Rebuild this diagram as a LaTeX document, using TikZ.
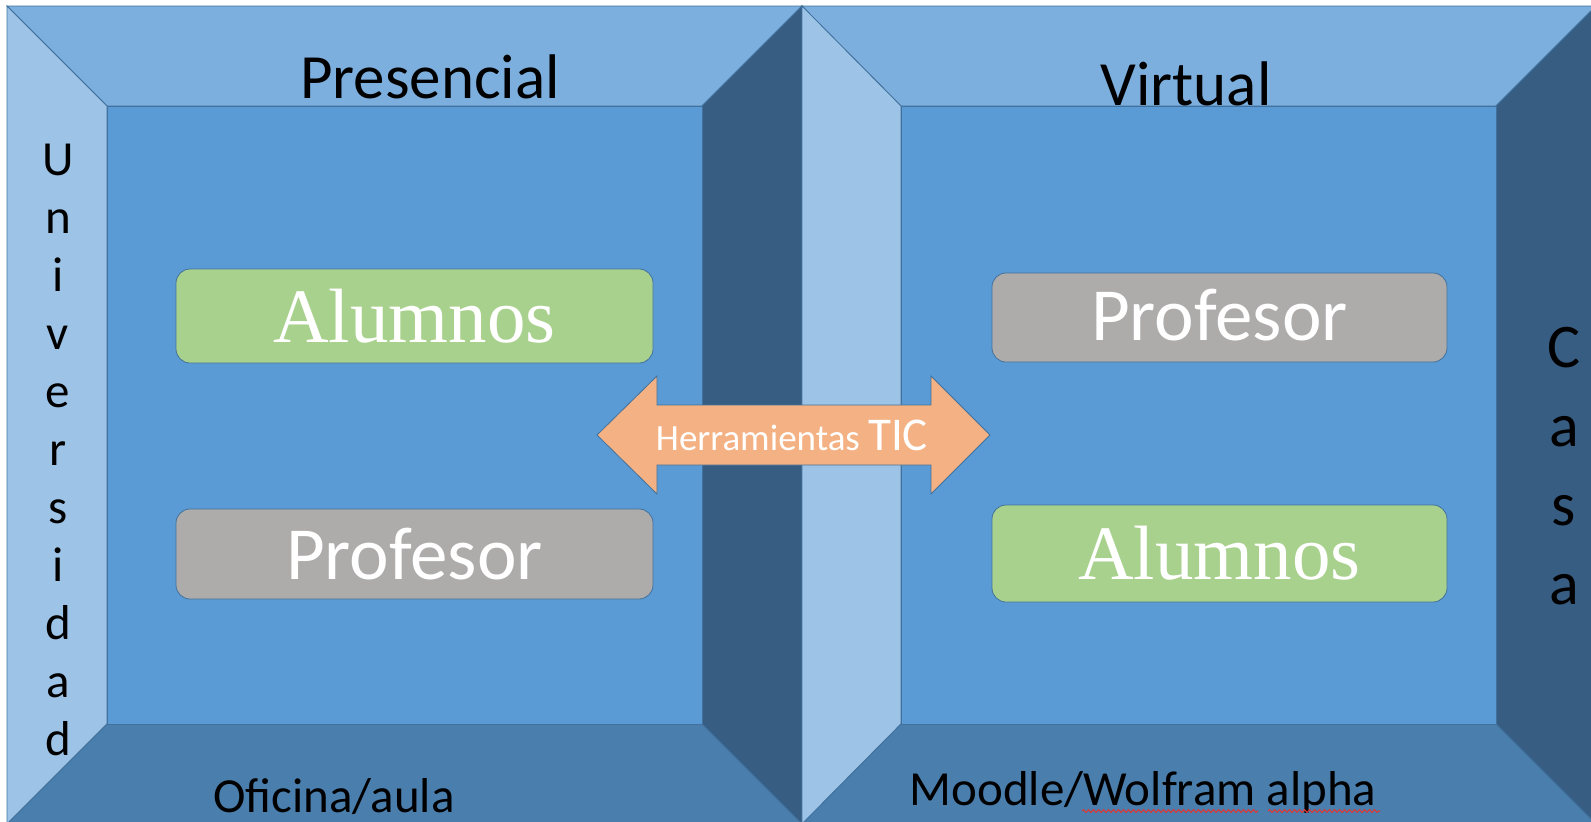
\documentclass[tikz,border=0pt]{standalone}
\usepackage{fontspec}
\setmainfont{Carlito}
\newfontfamily\timesf{Liberation Serif}
\usetikzlibrary{decorations.pathmorphing}

\definecolor{cara}{HTML}{5B9BD5}
\definecolor{arriba}{HTML}{7CAFDE}
\definecolor{izq}{HTML}{9DC3E6}
\definecolor{der}{HTML}{375D82}
\definecolor{abajo}{HTML}{4A7EAD}
\definecolor{linea}{HTML}{41719C}
\definecolor{verde}{HTML}{A9D18E}
\definecolor{gris}{HTML}{AEABAB}
\definecolor{naranja}{HTML}{F4B183}
\definecolor{rojo}{HTML}{D83A3A}

\tikzset{
  bisel/.style={draw=linea,line width=.8pt},
  caja/.style={rounded corners=14pt,draw=linea,line width=.8pt,text=white,inner sep=0pt},
  flecha/.style={fill=naranja,draw=linea,line width=.8pt},
  ondas/.style={draw=rojo,line width=1.1pt,decorate,decoration={snake,segment length=5pt,amplitude=1.4pt}}
}

\begin{document}
\begin{tikzpicture}[x=1pt,y=-1pt]

          \useasboundingbox (0,0) rectangle (1591,822);
          \clip (0,0) rectangle (1591,822);

          % marco izquierdo
          \filldraw[bisel,fill=arriba] (7,6) -- (802,6) -- (702,106) -- (107,106) -- cycle;
          \filldraw[bisel,fill=izq]    (7,6) -- (107,106) -- (107,724) -- (7,824) -- cycle;
          \filldraw[bisel,fill=der]    (802,6) -- (802,824) -- (702,724) -- (702,106) -- cycle;
          \filldraw[bisel,fill=abajo]  (7,824) -- (107,724) -- (702,724) -- (802,824) -- cycle;
          \filldraw[bisel,fill=cara]   (107,106) rectangle (702,724);

          % marco derecho
          \filldraw[bisel,fill=arriba] (802,6) -- (1596,6) -- (1496,106) -- (901,106) -- cycle;
          \filldraw[bisel,fill=izq]    (802,6) -- (901,106) -- (901,724) -- (802,824) -- cycle;
          \filldraw[bisel,fill=der]    (1596,6) -- (1596,824) -- (1496,724) -- (1496,106) -- cycle;
          \filldraw[bisel,fill=abajo]  (802,824) -- (901,724) -- (1496,724) -- (1596,824) -- cycle;
          \filldraw[bisel,fill=cara]   (901,106) rectangle (1496,724);

          \begin{scope}[every node/.style={caja}]
            \node (alu1) at (414.5,316)  [fill=verde,minimum width=477,minimum height=94,font=\timesf\fontsize{77}{90}\selectfont] {Alumnos};
            \node (pro1) at (414.5,554)  [fill=gris,minimum width=477,minimum height=90,font=\fontsize{75}{90}\selectfont] {Profesor};
            \node (pro2) at (1219.5,317.5) [fill=gris,minimum width=455,minimum height=89,text depth=6pt,font=\fontsize{75}{90}\selectfont] {Profesor};
            \node (alu2) at (1219.5,553.5) [fill=verde,minimum width=455,minimum height=97,font=\timesf\fontsize{77}{90}\selectfont] {Alumnos};
          \end{scope}

          % flecha doble
          \filldraw[flecha] (597,435) -- (657,376) -- (657,405) -- (931,405) -- (931,376)
            -- (990,435) -- (931,494) -- (931,465) -- (657,465) -- (657,494) -- cycle;
          \node (tic) at (792,450) [anchor=base,text=white,inner sep=0pt]
            {\fontsize{37}{44}\selectfont Herramientas \fontsize{47}{56}\selectfont TIC};

          \begin{scope}[every node/.style={anchor=base,inner sep=0pt}]
            \node (pres) at (430,98)   [font=\fontsize{63}{76}\selectfont] {Presencial};
            \node (virt) at (1186,105) [font=\fontsize{63}{76}\selectfont] {Virtual};
            \node (ofic) at (334,812)  [font=\fontsize{49}{58}\selectfont] {Oficina/aula};
            \node (mood) at (1143,805) [font=\fontsize{49}{58}\selectfont] {Moodle/Wolfram alpha};
            \foreach \l [count=\i] in {U,n,i,v,e,r,s,i,d,a,d}
              \node (u\i) at (58,175+58*\i-58) [font=\fontsize{49}{58}\selectfont] {\l};
            \foreach \l [count=\i] in {C,a,s,a}
              \node (c\i) at (1564,367+79*\i-79) [font=\fontsize{62}{79}\selectfont] {\l};
          \end{scope}

          \draw[ondas] (1082,811) -- (1258,811);
          \draw[ondas] (1268,811) -- (1380,811);

        \end{tikzpicture}
\end{document}
